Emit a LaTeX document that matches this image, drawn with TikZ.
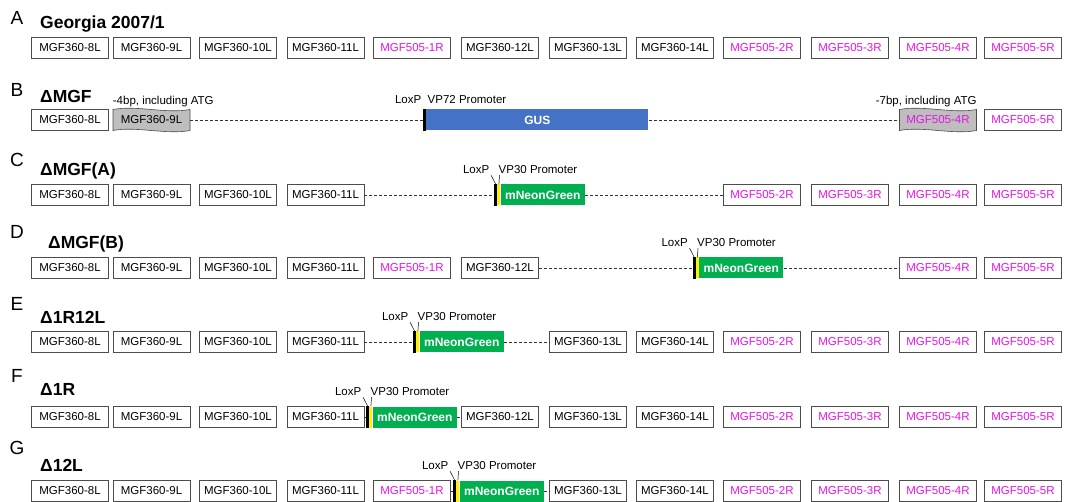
\documentclass[tikz,border=0pt]{standalone}
\usepackage{fontspec}
\setmainfont{Liberation Sans}
\usetikzlibrary{positioning}

\definecolor{mgfpink}{RGB}{228,20,228}
\definecolor{gusblue}{RGB}{68,114,196}
\definecolor{neongreen}{RGB}{0,176,80}
\definecolor{atggray}{RGB}{190,190,190}

% 遺伝子の中心x座標・名前・文字色
\def\genex{{70,151.5,238,325.5,412,500,588,675,762,850,938,1023}}
\def\genename{{"MGF360-8L","MGF360-9L","MGF360-10L","MGF360-11L","MGF505-1R","MGF360-12L","MGF360-13L","MGF360-14L","MGF505-2R","MGF505-3R","MGF505-4R","MGF505-5R"}}
\def\genecolor{{"black","black","black","black","mgfpink","black","black","black","mgfpink","mgfpink","mgfpink","mgfpink"}}

\tikzset{
  gene/.style={draw=black!70, line width=0.6pt, minimum width=77pt, minimum height=21pt,
    inner sep=0pt, font=\fontsize{11.5}{13}\selectfont},
  panel/.style={anchor=base, inner sep=0pt, font=\fontsize{19}{22}\selectfont},
  title/.style={anchor=base west, inner sep=0pt, font=\fontsize{17.5}{20}\bfseries\selectfont},
  note/.style={inner sep=0pt, font=\fontsize{11.5}{13}\selectfont},
  loxbar/.style={fill=black, minimum width=3pt, minimum height=22pt, inner sep=0pt},
  prombar/.style={fill=yellow, minimum width=3pt, minimum height=21pt, inner sep=0pt},
  reporter/.style={fill=neongreen, text=white, minimum width=84pt, minimum height=21pt,
    inner sep=0pt, font=\fontsize{12}{14}\bfseries\selectfont},
  gap/.style={draw=black!80, line width=0.6pt, dash pattern=on 3pt off 2pt},
  lead/.style={line width=0.5pt}
}

\begin{document}
\begin{tikzpicture}[x=1pt, y=-1pt]
    \useasboundingbox (0,0) rectangle (1065,502);

    % パネル記号とタイトル
    \node[panel] (pA) at (17,25) {A};
    \node[panel] (pB) at (17,97) {B};
    \node[panel] (pC) at (17,167) {C};
    \node[panel] (pD) at (17,239) {D};
    \node[panel] (pE) at (17,311) {E};
    \node[panel] (pF) at (17,382) {F};
    \node[panel] (pG) at (17,454) {G};
    \node[title] (tA) at (40,29) {Georgia 2007/1};
    \node[title] (tB) at (40,103) {ΔMGF};
    \node[title] (tC) at (40,176) {ΔMGF(A)};
    \node[title] (tD) at (48,249) {ΔMGF(B)};
    \node[title] (tE) at (40,324) {Δ1R12L};
    \node[title] (tF) at (40,395) {Δ1R};
    \node[title] (tG) at (40,471) {Δ12L};

    % 残っている遺伝子の箱
    \foreach \r/\y/\cols in {A/47.5/{1,2,3,4,5,6,7,8,9,10,11,12}, B/120/{1,12},
                             C/195/{1,2,3,4,9,10,11,12}, D/268/{1,2,3,4,5,6,11,12},
                             E/342/{1,2,3,4,7,8,9,10,11,12}, F/417/{1,2,3,4,6,7,8,9,10,11,12},
                             G/491/{1,2,3,4,5,7,8,9,10,11,12}} {
        \foreach \c in \cols {
            \pgfmathsetmacro{\x}{\genex[\c-1]}
            \pgfmathsetmacro{\g}{\genename[\c-1]}
            \pgfmathsetmacro{\t}{\genecolor[\c-1]}
            \node[gene, text=\t] (\r\c) at (\x,\y) {\g};
        }
    }

    % B: 一部欠失した遺伝子（灰色の波形）
    \foreach \c in {2,11} {
        \pgfmathsetmacro{\x}{\genex[\c-1]}
        \pgfmathsetmacro{\g}{\genename[\c-1]}
        \pgfmathsetmacro{\t}{\genecolor[\c-1]}
        \filldraw[fill=atggray, draw=black!70, line width=0.6pt]
            (\x-38.5,130.5) -- (\x-38.5,109.5)
            .. controls (\x-15,105) and (\x+15,114) .. (\x+38.5,109.5)
            -- (\x+38.5,130.5)
            .. controls (\x+15,135) and (\x-15,126) .. (\x-38.5,130.5) -- cycle;
        \node[gene, draw=none, text=\t] (B\c) at (\x,120) {\g};
    }
    \node[note, anchor=base west] (del4) at ([yshift=5pt]B2.north west) {-4bp, including ATG};
    \node[note, anchor=base east] (del7) at ([yshift=5pt]B11.north east) {-7bp, including ATG};

    % B: LoxP + VP72プロモーター + GUS
    \node[loxbar] (loxB) at (424.5,120) {};
    \node[fill=gusblue, text=white, minimum width=222pt, minimum height=21pt, inner sep=0pt,
          font=\fontsize{12}{14}\bfseries\selectfont, right=0pt of loxB] (gus) {GUS};
    \node[note, anchor=base east] (lxB) at ([xshift=-3pt, yshift=5pt]loxB.north) {LoxP};
    \node[note, anchor=base west] (vpB) at ([xshift=3pt, yshift=5pt]loxB.north) {VP72 Promoter};
    \draw[gap] (B2.east) -- (loxB.west);
    \draw[gap] (gus.east) -- (B11.west);

    % C-G: LoxP + VP30プロモーター + mNeonGreen
    \foreach \r/\y/\bx/\from/\to in {C/195/495.5/4/9, D/268/694/6/11, E/342/414.5/4/7,
                                      F/417/367.5/4/6, G/491/454.5/5/7} {
        \node[loxbar] (lox\r) at (\bx,\y) {};
        \node[prombar, right=0pt of lox\r] (prm\r) {};
        \node[reporter, right=0pt of prm\r] (mng\r) {mNeonGreen};
        \node[note, anchor=base east] (lx\r) at ([xshift=-6pt, yshift=10pt]lox\r.north) {LoxP};
        \node[note, anchor=base west] (vp\r) at ([xshift=3pt, yshift=10pt]lox\r.north) {VP30 Promoter};
        \draw[lead] ([xshift=1.5pt, yshift=-1pt]lx\r.south east) -- (lox\r.north);
        \draw[lead] ([xshift=1pt, yshift=-1pt]vp\r.south west) -- (prm\r.north);
        \draw[gap] (\r\from.east) -- (lox\r.west);
        \draw[gap] (mng\r.east) -- (\r\to.west);
    }
    %
\end{tikzpicture}
\end{document}
